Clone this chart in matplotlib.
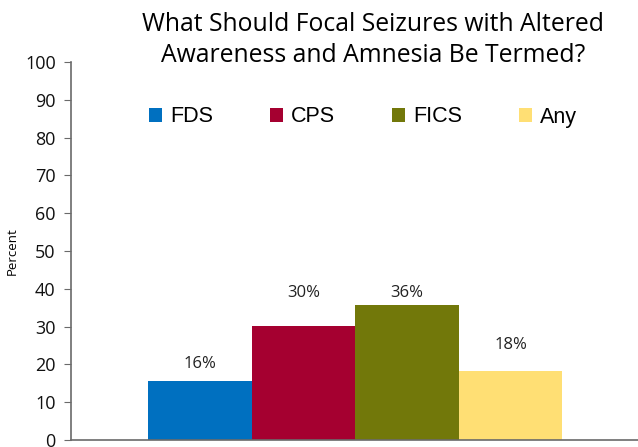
import matplotlib.pyplot as plt

categorias = ['FDS', 'CPS', 'FICS', 'Any']
valores = [15.7, 30.2, 35.8, 18.3]
rotulos = ['16%', '30%', '36%', '18%']
cores = ['#0070c0', '#a50030', '#72780a', '#ffdf74']
# deslocamento vertical dos rotulos (pontos), como no original
desloc = [6, 18, 3, 13]

fig = plt.figure(figsize=(6.38, 4.47), dpi=100)
ax = fig.add_axes([71 / 638, 7 / 447, 567 / 638, 378 / 447])

x = range(len(categorias))
barras = ax.bar(x, valores, width=1.0, color=cores, label=categorias)

for b, r, d in zip(barras, rotulos, desloc):
    ax.annotate(r, (b.get_x() + b.get_width() / 2, b.get_height()),
                xytext=(0, d), textcoords='offset points', ha='center', va='bottom',
                fontsize=12, family='Open Sans', color='#222222')

ax.set_xlim(-1.246, 4.23)
ax.set_ylim(0, 100)
ax.set_yticks(range(0, 101, 10))
ax.set_xticks([])
for lbl in ax.get_yticklabels():
    lbl.set_family('Open Sans')
ax.tick_params(axis='y', labelsize=13, length=5, color='#6a6a6a', pad=6, labelcolor='#111111')
ax.set_ylabel('Percent', fontsize=9.5, family='Open Sans')
ax.yaxis.set_label_coords(-0.093, 0.5)

for lado in ['top', 'right']:
    ax.spines[lado].set_visible(False)
for lado in ['left', 'bottom']:
    ax.spines[lado].set_color('#6a6a6a')
    ax.spines[lado].set_linewidth(1.2)

fig.text(373 / 638, 1 - 40 / 447, 'What Should Focal Seizures with Altered\nAwareness and Amnesia Be Termed?',
         ha='center', va='center', fontsize=17.8, family='Open Sans', linespacing=1.3)

ax.legend(loc='center', bbox_to_anchor=(363 / 638, 1 - 117 / 447), bbox_transform=fig.transFigure,
          ncol=4, frameon=False, handlelength=0.6, handleheight=0.6, handletextpad=0.37,
          columnspacing=2.65, prop={'family': 'Liberation Sans', 'size': 15.5})

plt.savefig('out.png', dpi=100)
